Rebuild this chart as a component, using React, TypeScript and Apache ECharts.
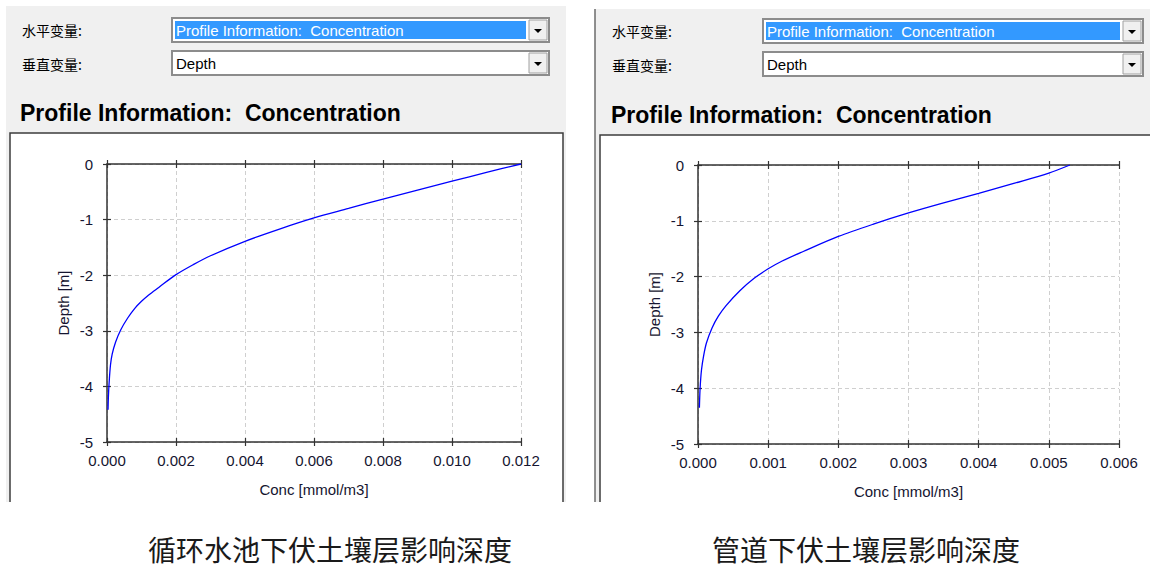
import React, { useEffect, useRef } from "react";
import * as echarts from "echarts";

// ---- data ----
const leftConc = [0.012, 0.011, 0.01, 0.009, 0.008, 0.007, 0.006, 0.005, 0.004, 0.003, 0.0025, 0.002, 0.0015, 0.0012, 0.001, 0.0008, 0.0006, 0.0004, 0.00025, 0.00015, 0.0001, 0.00006, 0.00004, 0.00003];
const leftDepth = [0, -0.15, -0.31, -0.47, -0.63, -0.8, -0.97, -1.17, -1.39, -1.65, -1.81, -1.99, -2.22, -2.36, -2.47, -2.6, -2.77, -2.98, -3.2, -3.42, -3.62, -3.95, -4.2, -4.42];
const rightConc = [0.0053, 0.005, 0.0045, 0.004, 0.0035, 0.003, 0.0025, 0.002, 0.0015, 0.0012, 0.001, 0.0008, 0.0006, 0.0004, 0.00029, 0.0002, 0.00012, 0.00008, 0.00005, 0.00003, 0.00002];
const rightDepth = [0, -0.145, -0.33, -0.51, -0.68, -0.86, -1.06, -1.28, -1.55, -1.72, -1.86, -2.03, -2.25, -2.52, -2.71, -2.92, -3.19, -3.42, -3.67, -4.0, -4.35];

const leftXMax = 0.012;
const leftXInterval = 0.002;
const rightXMax = 0.006;
const rightXInterval = 0.001;
const depthMin = -5;
const depthMax = 0;

const hLabel = "水平变量:";
const vLabel = "垂直变量:";
const hValue = "Profile Information:  Concentration";
const vValue = "Depth";
const panelTitle = "Profile Information:  Concentration";
const xName = "Conc [mmol/m3]";
const yName = "Depth [m]";
const captionLeft = "循环水池下伏土壤层影响深度";
const captionRight = "管道下伏土壤层影响深度";

const FONT = "'Liberation Sans', Arial, sans-serif";
const CJK = "'Noto Sans CJK SC', sans-serif";

function txt(text: string, x: number, y: number, size: number, opts: any = {}) {
  return {
    type: "text",
    z: 5,
    style: {
      text,
      x,
      y,
      fill: opts.fill || "#000",
      fontSize: size,
      lineHeight: opts.lineHeight || Math.round(size * 1.2),
      fontFamily: opts.family || FONT,
      fontWeight: opts.weight || "normal",
      textAlign: opts.align || "left",
      align: opts.align || "left",
      textVerticalAlign: "middle",
      verticalAlign: "middle",
    },
  };
}

function dropdown(x: number, y: number, w: number, h: number, text: string, selected: boolean) {
  const els: any[] = [];
  const btnW = 18;
  els.push({ type: "rect", z: 1, shape: { x, y, width: w, height: h }, style: { fill: "#fff", stroke: "#8c8c8c", lineWidth: 2 } });
  if (selected) {
    els.push({ type: "rect", z: 2, shape: { x: x + 3, y: y + 3, width: w - btnW - 8, height: h - 6 }, style: { fill: "#3399ff" } });
  }
  els.push(txt(text, x + 4, y + h / 2, 15, { fill: selected ? "#fff" : "#000" }));
  const bx = x + w - btnW - 2;
  els.push({ type: "rect", z: 2, shape: { x: bx, y: y + 2, width: btnW, height: h - 4 }, style: { fill: "#f0f0f0", stroke: "#a0a0a0", lineWidth: 1 } });
  const cx = bx + btnW / 2;
  const cy = y + h / 2 + 1;
  els.push({ type: "polygon", z: 3, shape: { points: [[cx - 4, cy - 2], [cx + 4, cy - 2], [cx, cy + 2]] }, style: { fill: "#000" } });
  return els;
}

function buildGraphic() {
  const g: any[] = [];
  // left panel
  g.push({ type: "rect", z: -10, shape: { x: 6, y: 6, width: 560, height: 496 }, style: { fill: "#f0f0f0" } });
  g.push({ type: "rect", z: -9, shape: { x: 10, y: 133, width: 553, height: 369 }, style: { fill: "#fff" } });
  g.push({ type: "polyline", z: 4, shape: { points: [[10, 502], [10, 133], [563, 133], [563, 502]] }, style: { stroke: "#3c3c3c", lineWidth: 1.5, fill: null } });
  g.push(txt(hLabel, 22, 30, 14, { family: CJK }));
  g.push(txt(vLabel, 22, 64, 14, { family: CJK }));
  g.push(...dropdown(172, 18, 377, 24, hValue, true));
  g.push(...dropdown(172, 51, 377, 24, vValue, false));
  g.push(txt(panelTitle, 20, 113, 23, { weight: "bold" }));
  // right panel
  g.push({ type: "rect", z: -10, shape: { x: 595, y: 9, width: 555, height: 493 }, style: { fill: "#f0f0f0" } });
  g.push({ type: "line", z: 4, shape: { x1: 595, y1: 9, x2: 595, y2: 502 }, style: { stroke: "#6b6b6b", lineWidth: 1.5 } });
  g.push({ type: "rect", z: -9, shape: { x: 600, y: 135, width: 560, height: 367 }, style: { fill: "#fff" } });
  g.push({ type: "polyline", z: 4, shape: { points: [[600, 502], [600, 135], [1150, 135]] }, style: { stroke: "#3c3c3c", lineWidth: 1.5, fill: null } });
  g.push(txt(hLabel, 612, 31, 14, { family: CJK }));
  g.push(txt(vLabel, 612, 65, 14, { family: CJK }));
  g.push(...dropdown(763, 19, 380, 24, hValue, true));
  g.push(...dropdown(763, 52, 380, 24, vValue, false));
  g.push(txt(panelTitle, 611, 115, 23, { weight: "bold" }));
  // captions
  g.push(txt(captionLeft, 330, 549, 28, { family: CJK, align: "center", fill: "#1a1a1a", lineHeight: 30 }));
  g.push(txt(captionRight, 866, 549, 28, { family: CJK, align: "center", fill: "#1a1a1a", lineHeight: 30 }));
  return g;
}

const AXIS_COLOR = "#333";
const LABEL_COLOR = "#151530";

function xAxes(gridIndex: number, max: number, interval: number) {
  const base = { gridIndex, type: "value", min: 0, max, interval };
  const line = { show: true, onZero: false, lineStyle: { color: AXIS_COLOR, width: 1.5 } };
  return [
    {
      ...base,
      position: "bottom",
      axisLine: line,
      axisTick: { show: true, inside: false, length: 4, lineStyle: { color: AXIS_COLOR, width: 1.2 } },
      axisLabel: { show: true, formatter: (v: number) => v.toFixed(3), fontSize: 15, fontFamily: FONT, color: LABEL_COLOR, margin: 11 },
      splitLine: { show: true, lineStyle: { color: "#cfcfcf", type: [4, 3], width: 1 } },
      name: xName,
      nameLocation: "middle",
      nameGap: 40,
      nameTextStyle: { fontSize: 15, fontFamily: FONT, color: LABEL_COLOR },
    },
    {
      ...base,
      position: "bottom",
      axisLine: { show: false, onZero: false },
      axisTick: { show: true, inside: true, length: 4, lineStyle: { color: AXIS_COLOR, width: 1.2 } },
      axisLabel: { show: false },
      splitLine: { show: false },
    },
    {
      ...base,
      position: "top",
      axisLine: line,
      axisTick: { show: true, inside: false, length: 4, lineStyle: { color: AXIS_COLOR, width: 1.2 } },
      axisLabel: { show: false },
      splitLine: { show: false },
    },
    {
      ...base,
      position: "top",
      axisLine: { show: false, onZero: false },
      axisTick: { show: true, inside: true, length: 4, lineStyle: { color: AXIS_COLOR, width: 1.2 } },
      axisLabel: { show: false },
      splitLine: { show: false },
    },
  ];
}

function yAxes(gridIndex: number) {
  const base = { gridIndex, type: "value", min: depthMin, max: depthMax, interval: 1 };
  return [
    {
      ...base,
      position: "left",
      axisLine: { show: true, onZero: false, lineStyle: { color: AXIS_COLOR, width: 1.5 } },
      axisTick: { show: true, inside: false, length: 4, lineStyle: { color: AXIS_COLOR, width: 1.2 } },
      axisLabel: { show: true, fontSize: 15, fontFamily: FONT, color: LABEL_COLOR, margin: 14 },
      splitLine: { show: true, lineStyle: { color: "#cfcfcf", type: [4, 3], width: 1 } },
      name: yName,
      nameLocation: "middle",
      nameGap: 36,
      nameRotate: 90,
      nameTextStyle: { fontSize: 15, fontFamily: FONT, color: LABEL_COLOR },
    },
    {
      ...base,
      position: "left",
      axisLine: { show: false, onZero: false },
      axisTick: { show: true, inside: true, length: 4, lineStyle: { color: AXIS_COLOR, width: 1.2 } },
      axisLabel: { show: false },
      splitLine: { show: false },
    },
  ];
}

export default function App() {
  const ref = useRef<HTMLDivElement>(null);
  useEffect(() => {
    document.body.style.margin = "0";
    if (!ref.current) return;
    const chart = echarts.init(ref.current, null, { renderer: "svg" });
    const option: any = {
      animation: false,
      backgroundColor: "#fff",
      graphic: { elements: buildGraphic() },
      grid: [
        { left: 107, top: 164, width: 414, height: 278 },
        { left: 698, top: 165, width: 421, height: 279 },
      ],
      xAxis: [...xAxes(0, leftXMax, leftXInterval), ...xAxes(1, rightXMax, rightXInterval)],
      yAxis: [...yAxes(0), ...yAxes(1)],
      series: [
        {
          type: "line",
          xAxisIndex: 0,
          yAxisIndex: 0,
          showSymbol: false,
          smooth: 0.3,
          lineStyle: { color: "#0000ff", width: 1.3 },
          data: leftConc.map((c, i) => [c, leftDepth[i]]),
        },
        {
          type: "line",
          xAxisIndex: 4,
          yAxisIndex: 2,
          showSymbol: false,
          smooth: 0.3,
          lineStyle: { color: "#0000ff", width: 1.3 },
          data: rightConc.map((c, i) => [c, rightDepth[i]]),
        },
      ],
    };
    chart.setOption(option);
    return () => chart.dispose();
  }, []);
  return <div ref={ref} style={{ width: 1150, height: 568 }} />;
}
